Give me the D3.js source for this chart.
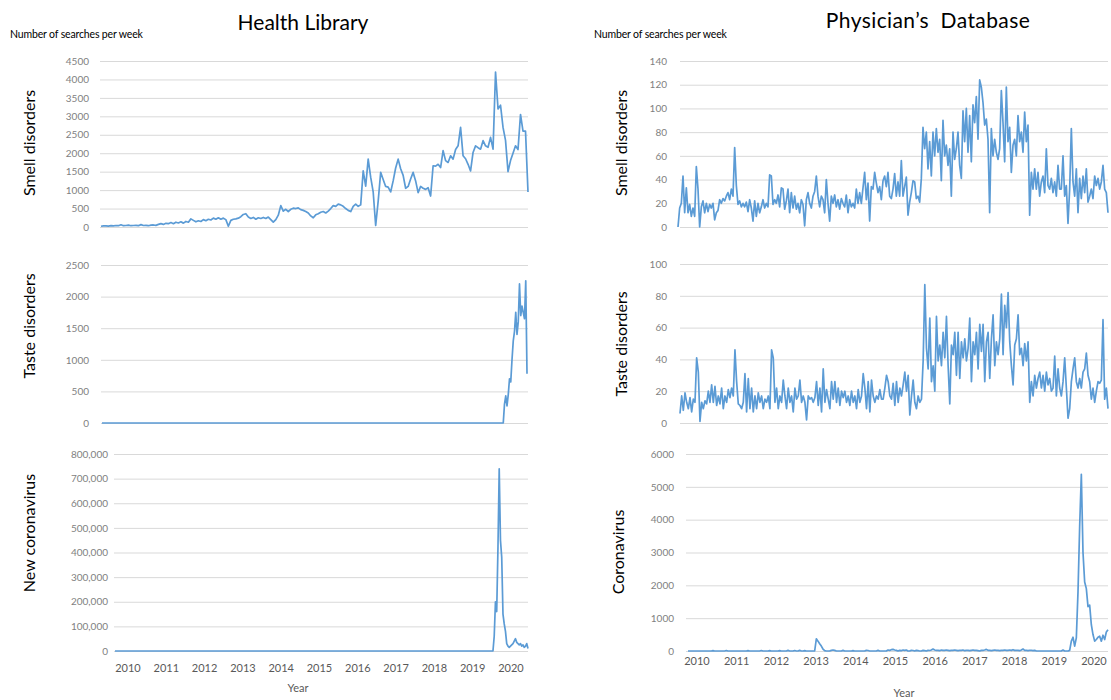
<!DOCTYPE html>
<html><head><meta charset="utf-8">
<script src="https://cdn.jsdelivr.net/npm/d3@7"></script>
<style>body{margin:0;background:#fff} svg{display:block;font-family:Lato,'Open Sans',sans-serif}</style>
</head><body><svg id="c" width="1111" height="700"></svg>
<script>
// ---------- DATA ----------
const years = [2010,2011,2012,2013,2014,2015,2016,2017,2018,2019,2020];

const hlSmellTicks = [0,500,1000,1500,2000,2500,3000,3500,4000,4500];
const hlTasteTicks = [0,500,1000,1500,2000,2500];
const hlCoronaTicks = [0,100000,200000,300000,400000,500000,600000,700000,800000];
const pdSmellTicks = [0,20,40,60,80,100,120,140];
const pdTasteTicks = [0,20,40,60,80,100];
const pdCoronaTicks = [0,1000,2000,3000,4000,5000,6000];

// Health Library – smell disorders (weekly searches, sampled)
const hlSmell = [
20,30,30,25,35,30,40,35,60,35,40,50,35,40,45,35,65,40,45,35,
50,55,45,70,90,70,100,90,120,90,130,110,140,105,150,130,220,180,140,170,
150,200,170,210,190,240,210,250,210,240,200,20,180,210,220,240,280,340,360,270,
230,260,210,250,230,260,230,270,200,130,200,320,580,430,480,420,480,510,500,520,
470,450,420,380,300,250,330,360,400,420,380,430,500,580,560,620,600,560,500,450,
420,560,620,560,600,1520,1110,1840,1350,950,40,700,1480,1290,1100,1080,950,1250,1600,1840,
1580,1400,1050,1100,1300,1480,1250,930,1100,1050,1020,1065,840,1660,1650,1700,1610,2070,1800,1750,
1930,1840,2100,2200,2700,1930,1850,1700,1520,2020,2200,2150,2110,2340,2200,2160,2430,2110,4200,3200,
3300,2700,2350,1500,1800,2000,2200,2100,3050,2600,2600,950
];

// Health Library – taste disorders
const hlTaste = [
0,0,0,0,0,0,0,0,0,0,0,0,0,0,0,0,0,0,0,0,
0,0,0,0,0,0,0,0,0,0,0,0,0,0,0,0,0,0,0,0,
0,0,0,0,0,0,0,0,0,0,0,0,0,0,0,0,0,0,0,0,
0,0,0,0,0,0,0,0,0,0,0,0,0,0,0,0,0,0,0,0,
0,0,0,0,0,0,0,0,0,0,0,0,0,0,0,0,0,0,0,0,
0,0,0,0,0,0,0,0,0,0,0,0,0,0,0,0,0,0,0,0,
0,0,0,0,0,0,0,0,0,0,0,0,0,0,0,0,0,0,0,0,
0,0,0,0,0,0,0,0,0,0,0,0,0,0,0,0,0,0,0,0,
0,0,0,0,0,0,0,0,0,0,0,0,0,0,0,0,0,0,0,0,
0,0,0,0,0,0,0,0,0,0,0,0,0,0,0,0,0,0,0,0,
0,0,0,0,0,0,0,0,0,0,0,0,0,0,0,0,0,0,0,0,
0,0,0,0,0,0,0,0,0,0,0,0,0,0,0,0,0,0,0,0,
0,0,0,0,0,0,0,0,0,0,0,0,0,0,0,0,0,0,0,0,
0,0,0,0,0,0,0,0,0,0,0,0,0,0,0,0,0,0,0,0,
0,0,0,0,0,0,0,0,0,0,0,0,0,0,0,0,0,0,0,0,
0,0,0,0,0,0,0,0,0,0,0,0,0,0,0,0,0,0,0,0,
0,0,
300,430,270,450,700,650,1000,1300,1450,1750,1400,1600,2200,1700,1850,1750,1650,2250,780
];

// Health Library – new coronavirus
const hlCorona = [
0,0,0,0,0,0,0,0,0,0,0,0,0,0,0,0,0,0,0,0,
0,0,0,0,0,0,0,0,0,0,0,0,0,0,0,0,0,0,0,0,
0,0,0,0,0,0,0,0,0,0,0,0,0,0,0,0,0,0,0,0,
0,0,0,0,0,0,0,0,0,0,0,0,0,0,0,0,0,0,0,0,
0,0,0,0,0,0,0,0,0,0,0,0,0,0,0,0,0,0,0,0,
0,0,0,0,0,0,0,0,0,0,0,0,0,0,0,0,0,0,0,0,
0,0,0,0,0,0,0,0,0,0,0,0,0,0,0,0,0,0,0,0,
0,0,0,0,0,0,0,0,0,0,0,0,0,0,0,0,0,0,0,0,
0,0,0,0,0,0,0,0,0,0,0,0,0,0,0,0,0,0,0,0,
0,0,0,0,0,0,0,0,0,0,0,0,0,0,0,0,0,0,0,0,
0,0,0,0,0,0,0,0,0,0,0,0,0,0,0,0,0,0,0,0,
0,0,0,0,0,0,0,0,0,0,0,0,0,0,0,0,0,0,0,0,
0,0,0,0,0,0,0,0,0,0,0,0,0,0,0,0,0,0,0,0,
0,0,0,0,0,0,0,0,0,0,0,0,0,0,0,0,0,0,0,0,
0,0,0,0,0,0,0,0,0,0,0,0,0,0,0,0,0,0,0,0,
0,0,0,
60000,200000,160000,420000,740000,450000,380000,150000,110000,80000,
30000,20000,15000,20000,25000,30000,40000,50000,35000,30000,
25000,30000,20000,25000,15000,20000,30000,10000
];

// Physician's Database – smell disorders
const pdSmell = [
0,16,20,43,12,33,12,19,9,16,
9,51,32,0,17,22,12,20,13,19,
16,20,6,12,14,23,20,24,22,26,
29,23,32,26,67,35,19,22,17,20,
17,21,13,23,16,5,22,9,20,12,
17,23,16,20,17,44,43,19,23,20,
27,17,33,32,15,22,32,12,29,16,
26,15,20,12,23,19,1,23,29,20,
16,26,30,43,26,17,26,23,12,40,
20,5,26,20,27,17,23,15,24,20,
17,27,12,23,17,20,16,32,20,29,
20,33,46,23,37,5,34,32,46,37,
29,34,23,39,43,34,46,26,
24,32,45,26,38,26,56,26,34,42,
10,21,29,39,38,24,26,21,41,84,
66,80,49,72,43,80,60,83,63,74,
39,90,60,69,52,66,26,80,57,66,
80,52,41,98,72,100,63,94,55,103,
88,110,74,124,118,105,86,91,74,12,
83,60,74,63,57,66,115,88,55,118,
72,84,46,69,74,60,94,72,80,63,
97,72,86,10,46,32,49,32,46,26,
38,43,29,66,35,32,41,29,38,26,
52,32,32,60,26,35,3,32,83,38,
26,49,12,41,24,43,29,49,21,26,
32,24,43,35,41,32,38,52,32,29,12
];

// Physician's Database – taste disorders
const pdTaste = [
6,17,8,19,13,9,16,7,15,13,
41,32,1,13,9,14,12,20,13,24,
13,23,11,17,12,22,9,17,13,21,
16,22,17,46,26,12,11,9,13,31,
7,28,9,22,7,17,9,19,13,17,
9,15,13,17,9,46,41,13,22,9,
17,13,27,17,9,22,13,17,7,22,
15,17,27,13,17,13,2,17,15,16,
13,16,26,11,22,7,34,13,21,15,
9,26,15,26,13,22,11,20,16,20,
13,17,11,20,13,17,9,21,13,17,
31,22,9,26,7,27,17,13,17,15,
21,15,15,22,30,26,17,
15,25,11,26,13,22,17,24,32,20,
30,5,17,27,13,9,17,13,15,39,
87,47,34,66,26,36,20,67,39,49,
36,57,41,67,36,12,49,43,57,30,
57,28,51,41,53,39,47,66,26,51,
43,57,34,62,45,62,26,51,57,28,
53,68,36,51,43,53,81,43,74,60,
82,51,36,24,49,53,68,43,47,36,
50,39,51,13,26,17,30,22,28,32,
22,30,20,32,24,28,20,22,42,17,
34,22,17,26,41,22,3,9,26,34,
41,26,22,28,22,32,34,44,30,26,
15,22,13,20,26,25,27,65,15,22,9
];

// Physician's Database – coronavirus
const pdCorona = [
0,0,0,0,0,0,0,0,0,0,
0,0,0,0,0,10,0,0,0,0,
0,0,0,15,0,0,0,0,0,0,
0,0,0,0,0,0,10,0,0,0,
0,0,0,0,15,0,0,0,0,10,
0,0,0,0,0,10,0,0,0,0,
20,0,0,0,15,0,0,20,0,0,
10,0,0,0,0,0,0,370,300,220,
150,60,10,0,0,0,20,30,20,0,
0,0,0,20,0,0,0,0,0,10,
0,0,0,0,0,0,0,20,15,0,
0,0,0,0,20,0,0,0,0,0,
30,20,40,50,30,20,0,20,10,30,
20,30,0,0,20,15,0,20,10,0,
0,20,10,0,20,15,30,60,30,20,
20,10,30,20,20,30,20,10,20,20,
30,20,10,20,20,30,10,20,20,10,
20,30,20,20,10,0,20,20,30,50,
20,20,10,20,30,20,20,10,20,20,
30,20,20,30,20,40,20,20,20,10,
30,60,20,20,10,20,20,10,20,0,
0,0,0,0,0,0,0,0,0,0,
0,0,0,0,0,30,0,0,0,20,
300,420,150,400,1800,3800,5380,3000,2100,1900,
1350,1400,800,500,300,350,420,450,300,480,
350,580,650
];

// ---------- DRAWING ----------
const svg = d3.select('#c');
const LINE = '#5b9bd5', GRID = '#d9d9d9', TICK = '#7f7f7f';
const plain = d3.format('d'), comma = d3.format(',');

const panels = [
  {v:hlSmell,  t:hlSmellTicks,  max:4500,   f:plain, xr:[101,528], gr:[100,528], yr:[227,61],  lx:89,  name:'Smell disorders', nx:31,  ny:143},
  {v:hlTaste,  t:hlTasteTicks,  max:2500,   f:plain, xr:[102,527], gr:[101,528], yr:[423,265], lx:89,  name:'Taste disorders', nx:31,  ny:326},
  {v:hlCorona, t:hlCoronaTicks, max:800000, f:comma, xr:[115,528], gr:[114,528], yr:[651,454], lx:108, name:'New coronavirus', nx:31,  ny:533},
  {v:pdSmell,  t:pdSmellTicks,  max:140,    f:plain, xr:[678,1108],gr:[680,1108],yr:[227,61],  lx:667, name:'Smell disorders', nx:623, ny:143},
  {v:pdTaste,  t:pdTasteTicks,  max:100,    f:plain, xr:[680,1108],gr:[680,1108],yr:[423,264], lx:667, name:'Taste disorders', nx:623, ny:344},
  {v:pdCorona, t:pdCoronaTicks, max:6000,   f:plain, xr:[688,1108],gr:[686,1108],yr:[651,454], lx:674, name:'Coronavirus',     nx:620, ny:552}
];

panels.forEach(p => {
  const x = d3.scaleLinear().domain([0, p.v.length - 1]).range(p.xr);
  const y = d3.scaleLinear().domain([0, p.max]).range(p.yr);
  const g = svg.append('g').attr('transform', `translate(${p.gr[0]},0)`);
  g.call(d3.axisLeft(y).tickValues(p.t).tickFormat(p.f)
      .tickSize(-(p.gr[1] - p.gr[0])).tickPadding(p.gr[0] - p.lx));
  g.select('.domain').remove();
  g.selectAll('.tick line').attr('stroke', GRID).attr('stroke-width', 1);
  g.selectAll('.tick text').attr('fill', TICK)
    .attr('font-family', "Lato,'Open Sans',sans-serif").attr('font-size', 10);

  svg.append('path').datum(p.v)
    .attr('fill', 'none').attr('stroke', LINE).attr('stroke-width', 1.7)
    .attr('stroke-linejoin', 'round')
    .attr('d', d3.line().x((d, i) => x(i)).y(d => y(d)));

  svg.append('text')
    .attr('transform', `translate(${p.nx},${p.ny}) rotate(-90)`)
    .attr('text-anchor', 'middle').attr('dominant-baseline', 'middle')
    .attr('font-size', 16).attr('fill', '#000').text(p.name);
});

// year labels
const sides = [
  {r:[128,511], by:672, yx:298, yy:692},
  {r:[697,1094], by:665, yx:904, yy:697}
];
sides.forEach(s => {
  const xs = d3.scaleLinear().domain([years[0], years[years.length-1]]).range(s.r);
  svg.append('g').selectAll('text').data(years).join('text')
    .attr('x', d => xs(d)).attr('y', s.by).attr('text-anchor', 'middle')
    .attr('font-size', 11).attr('fill', '#595959').text(d => d);
  svg.append('text').attr('x', s.yx).attr('y', s.yy).attr('text-anchor', 'middle')
    .attr('font-size', 11).attr('fill', '#595959').text('Year');
});

// titles
svg.append('text').attr('x', 303).attr('y', 30).attr('text-anchor', 'middle')
  .attr('font-size', 21).attr('fill', '#000').text('Health Library');
svg.append('text').attr('x', 928).attr('y', 28).attr('text-anchor', 'middle')
  .attr('font-size', 21).attr('fill', '#000').attr('letter-spacing', 0.4).text('Physician\u2019s  Database').style('white-space','pre');
svg.append('text').attr('x', 10).attr('y', 38).attr('font-size', 10.5)
  .attr('fill', '#000').attr('letter-spacing', -0.15).text('Number of searches per week');
svg.append('text').attr('x', 594).attr('y', 38).attr('font-size', 10.5)
  .attr('fill', '#000').attr('letter-spacing', -0.15).text('Number of searches per week');
</script></body></html>
